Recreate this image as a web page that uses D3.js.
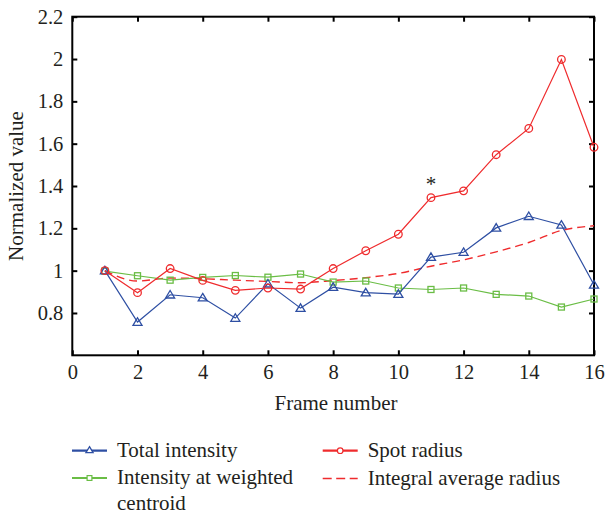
<!DOCTYPE html>
<html>
<head>
<meta charset="utf-8">
<script src="https://cdn.jsdelivr.net/npm/d3@7"></script>
<style>
  body { margin: 0; background: #fff; }
  text { font-family: "Liberation Serif", "DejaVu Serif", serif; fill: #231f20; }
</style>
</head>
<body>
<script>
// frame numbers and the four normalized series
const frames = [1, 2, 3, 4, 5, 6, 7, 8, 9, 10, 11, 12, 13, 14, 15, 16];
const totalIntensity = [1.0, 0.757, 0.886, 0.872, 0.776, 0.938, 0.823, 0.922, 0.896, 0.889, 1.064, 1.087, 1.202, 1.257, 1.216, 0.933];
const centroidIntensity = [0.998, 0.976, 0.955, 0.968, 0.977, 0.969, 0.984, 0.946, 0.951, 0.918, 0.911, 0.918, 0.888, 0.880, 0.828, 0.866];
const spotRadius = [1.0, 0.896, 1.010, 0.954, 0.907, 0.918, 0.913, 1.010, 1.094, 1.172, 1.345, 1.377, 1.548, 1.672, 1.998, 1.583];
const avgRadius = [1.0, 0.951, 0.965, 0.962, 0.955, 0.949, 0.943, 0.953, 0.967, 0.987, 1.021, 1.051, 1.089, 1.133, 1.190, 1.212];
const xTicks = [0, 2, 4, 6, 8, 10, 12, 14, 16];
const yTicks = [0.8, 1.0, 1.2, 1.4, 1.6, 1.8, 2.0, 2.2];
const starFrame = 11, starValue = 1.425;

const blue = "#2e4fa3", red = "#ef2b2d", green = "#6abd45";

const svg = d3.select("body").append("svg")
  .attr("width", 605).attr("height", 516);

const pLeft = 72.3, pRight = 594, pTop = 16.7, pBottom = 355.3;
const x = d3.scaleLinear().domain([0, 16]).range([pLeft, pRight]);
const y = d3.scaleLinear().domain([0.6, 2.2]).range([pBottom, pTop]);

// axes, ticks pointing inward on all four sides
const fmt = d => d3.format("~g")(+d.toFixed(1));
const axB = svg.append("g").attr("transform", `translate(0,${pBottom})`)
  .call(d3.axisBottom(x).tickValues(xTicks).tickSize(-5).tickPadding(9).tickFormat(fmt));
const axT = svg.append("g").attr("transform", `translate(0,${pTop})`)
  .call(d3.axisTop(x).tickValues(xTicks).tickSize(-5).tickFormat(""));
const axL = svg.append("g").attr("transform", `translate(${pLeft},0)`)
  .call(d3.axisLeft(y).tickValues(yTicks).tickSize(-5).tickPadding(9).tickFormat(fmt));
const axR = svg.append("g").attr("transform", `translate(${pRight},0)`)
  .call(d3.axisRight(y).tickValues(yTicks).tickSize(-5).tickFormat(""));
[axB, axT, axL, axR].forEach(a => {
  a.select(".domain").remove();
  a.selectAll(".tick line").attr("stroke", "#000").attr("stroke-width", 2);
  a.selectAll("text").style("font-size", "20.5px").attr("fill", "#231f20")
    .style("font-family", "'Liberation Serif', serif");
});
axB.selectAll("text").attr("dy", "0.71em");

svg.append("rect")
  .attr("x", pLeft).attr("y", pTop)
  .attr("width", pRight - pLeft).attr("height", pBottom - pTop)
  .attr("fill", "none").attr("stroke", "#000").attr("stroke-width", 2);

// axis titles
svg.append("text").attr("x", 336).attr("y", 410)
  .attr("text-anchor", "middle").style("font-size", "21px").text("Frame number");
svg.append("text").attr("transform", `translate(23,${(pTop + pBottom) / 2}) rotate(-90)`)
  .attr("text-anchor", "middle").style("font-size", "21px").text("Normalized value");

// series
const line = d3.line().x((d, i) => x(frames[i])).y(d => y(d));
const smooth = d3.line().curve(d3.curveMonotoneX).x((d, i) => x(frames[i])).y(d => y(d));

const plot = svg.append("g");

plot.append("path").datum(avgRadius).attr("d", smooth)
  .attr("fill", "none").attr("stroke", red).attr("stroke-width", 1.4)
  .attr("stroke-dasharray", "8,5");

function triangle(s) {
  return `M0,${-s}L${s * 1.05},${s * 0.75}L${-s * 1.05},${s * 0.75}Z`;
}

function drawSeries(vals, color, marker) {
  plot.append("path").datum(vals).attr("d", line)
    .attr("fill", "none").attr("stroke", color).attr("stroke-width", 1.2);
  const g = plot.append("g");
  vals.forEach((v, i) => {
    const cx = x(frames[i]), cy = y(v);
    if (marker === "tri") {
      g.append("path").attr("d", triangle(4.3)).attr("transform", `translate(${cx},${cy})`)
        .attr("fill", "none").attr("stroke", color).attr("stroke-width", 1.3);
    } else if (marker === "sq") {
      g.append("rect").attr("x", cx - 3).attr("y", cy - 3).attr("width", 6).attr("height", 6)
        .attr("fill", "none").attr("stroke", color).attr("stroke-width", 1.3);
    } else {
      g.append("circle").attr("cx", cx).attr("cy", cy).attr("r", 3.8)
        .attr("fill", "none").attr("stroke", color).attr("stroke-width", 1.3);
    }
  });
}

drawSeries(centroidIntensity, green, "sq");
drawSeries(totalIntensity, blue, "tri");
drawSeries(spotRadius, red, "circ");

svg.append("text").attr("x", x(starFrame)).attr("y", y(starValue) + 10)
  .attr("text-anchor", "middle").style("font-size", "21px").text("*");

// legend
const legend = [
  { label: ["Total intensity"], color: blue, marker: "tri", lx: 72, ly: 450.7 },
  { label: ["Intensity at weighted", "centroid"], color: green, marker: "sq", lx: 72, ly: 478 },
  { label: ["Spot radius"], color: red, marker: "circ", lx: 322.7, ly: 450.7 },
  { label: ["Integral average radius"], color: red, marker: "dash", lx: 322.7, ly: 478.5 }
];
legend.forEach(d => {
  const g = svg.append("g");
  g.append("line").attr("x1", d.lx).attr("x2", d.lx + 35).attr("y1", d.ly).attr("y2", d.ly)
    .attr("stroke", d.color).attr("stroke-width", d.marker === "dash" ? 1.5 : 2.2)
    .attr("stroke-dasharray", d.marker === "dash" ? "9,4.5" : null);
  const mx = d.lx + 17.5;
  if (d.marker === "tri") {
    g.append("path").attr("d", triangle(3.4)).attr("transform", `translate(${mx},${d.ly - 0.6})`)
      .attr("fill", "#fff").attr("stroke", d.color).attr("stroke-width", 1.3);
  } else if (d.marker === "sq") {
    g.append("rect").attr("x", mx - 2.4).attr("y", d.ly - 2.4).attr("width", 4.8).attr("height", 4.8)
      .attr("fill", "#fff").attr("stroke", d.color).attr("stroke-width", 1.2);
  } else if (d.marker === "circ") {
    g.append("circle").attr("cx", mx).attr("cy", d.ly).attr("r", 2.8)
      .attr("fill", "#fff").attr("stroke", d.color).attr("stroke-width", 1.2);
  }
  d.label.forEach((t, k) => {
    g.append("text").attr("x", d.lx + 45).attr("y", d.ly + 6 + k * 26)
      .style("font-size", "21px").text(t);
  });
});
</script>
</body>
</html>
